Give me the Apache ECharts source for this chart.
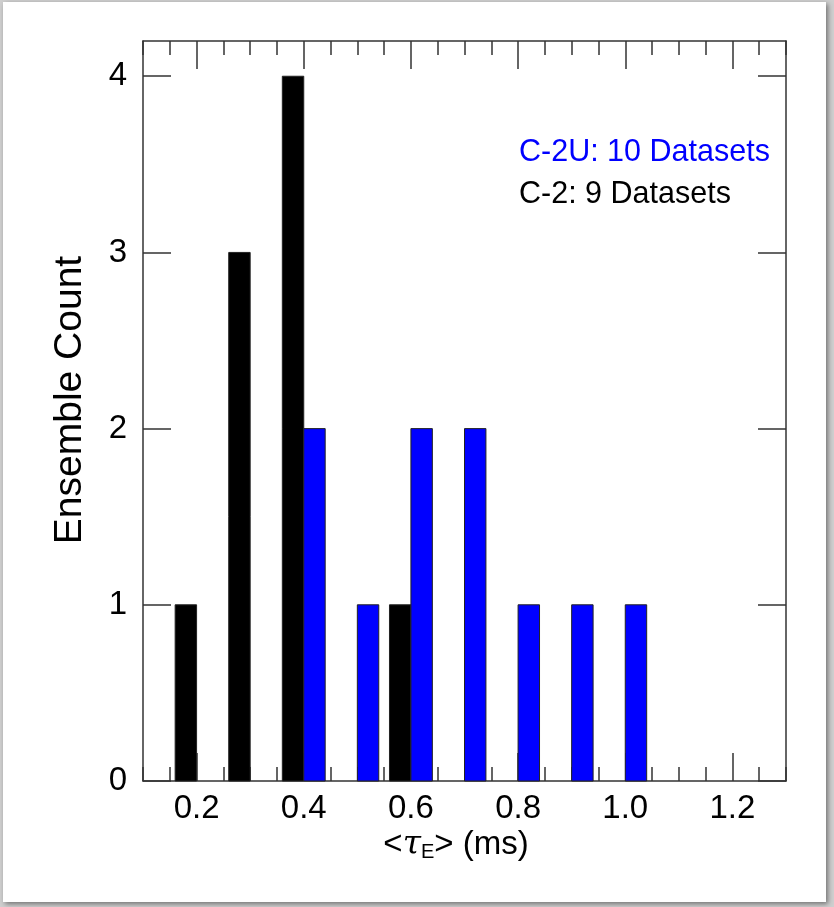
<!DOCTYPE html>
<html>
<head>
<meta charset="utf-8">
<script src="https://cdn.jsdelivr.net/npm/echarts@6/dist/echarts.min.js"></script>
<style>
html,body{margin:0;padding:0;background:#cfcfcf;}
#chart{width:834px;height:907px;}
</style>
</head>
<body>
<div id="chart"></div>
<script>
// ---- data ----
const c2Centers = [0.18, 0.28, 0.38, 0.58];          // C-2 bar centres (ms)
const c2Counts  = [1, 3, 4, 1];
const c2uCenters = [0.42, 0.52, 0.62, 0.72, 0.82, 0.92, 1.02]; // C-2U bar centres (ms)
const c2uCounts  = [2, 1, 2, 2, 1, 1, 1];
const barWidthMs = 0.04;
const xMajorTicks = [0.2, 0.4, 0.6, 0.8, 1.0, 1.2];
const yTicks = [0, 1, 2, 3, 4];
const legendLabels = ['C-2U: 10 Datasets', 'C-2: 9 Datasets'];

const FONT = '"Liberation Sans", Arial, Helvetica, sans-serif';
const AX = '#333';

function barRender(params, api) {
  const x = api.value(0), y = api.value(1);
  const p0 = api.coord([x - barWidthMs / 2, y]);
  const p1 = api.coord([x + barWidthMs / 2, 0]);
  return {
    type: 'rect',
    shape: { x: p0[0], y: p0[1], width: p1[0] - p0[0], height: p1[1] - p0[1] },
    style: api.style()
  };
}

const chart = echarts.init(document.getElementById('chart'), null, { renderer: 'canvas' });
const grid = { left: 143, right: 48, top: 41, bottom: 126 };
const xBase = { type: 'value', min: 0.1, max: 1.3, splitLine: { show: false } };
const yBase = { type: 'value', min: 0, max: 4.2, splitLine: { show: false } };

chart.setOption({
  animation: false,
  backgroundColor: '#cfcfcf',
  grid: grid,
  graphic: [
    { type: 'rect', z: -10, shape: { x: 3, y: 2, width: 823, height: 900 },
      style: { fill: '#fff', shadowBlur: 5, shadowColor: 'rgba(0,0,0,0.45)', shadowOffsetX: 2, shadowOffsetY: 2 } },
    { type: 'text', left: 519, top: 137, z: 10,
      style: { text: legendLabels[0], fill: '#0000ff', font: '30.5px ' + FONT } },
    { type: 'text', left: 519, top: 179, z: 10,
      style: { text: legendLabels[1], fill: '#000', font: '30.5px ' + FONT } },
    { type: 'text', z: 10, x: 70, y: 400, rotation: Math.PI / 2,
      style: { text: 'Ensemble Count', fill: '#000', font: '39px ' + FONT, align: 'center', verticalAlign: 'middle' } },
    { type: 'text', z: 10, x: 456, y: 845,
      style: {
        text: '<{i|τ}{s|E}> (ms)', align: 'center', verticalAlign: 'middle',
        font: '33px ' + FONT, fill: '#000',
        rich: {
          i: { fontSize: 33, fontStyle: 'italic', fontFamily: 'DejaVu Serif', fill: '#000' },
          s: { fontSize: 20, fontFamily: FONT, fill: '#000', padding: [14, 0, 0, 0] }
        }
      } }
  ],
  xAxis: [
    Object.assign({}, xBase, {
      position: 'bottom',
      axisLine: { show: true, onZero: false, lineStyle: { color: AX, width: 1.5 } },
      axisTick: { show: true, inside: true, length: 28, customValues: xMajorTicks, lineStyle: { color: AX, width: 1.5 } },
      axisLabel: { show: true, customValues: xMajorTicks, margin: 11, color: '#000', fontSize: 33, fontFamily: FONT,
        formatter: v => v.toFixed(1) }
    }),
    Object.assign({}, xBase, {
      position: 'bottom', interval: 0.05,
      axisLine: { show: false, onZero: false },
      axisTick: { show: true, inside: true, length: 14, lineStyle: { color: AX, width: 1.5 } },
      axisLabel: { show: false }
    }),
    Object.assign({}, xBase, {
      position: 'top',
      axisLine: { show: true, onZero: false, lineStyle: { color: AX, width: 1.5 } },
      axisTick: { show: true, inside: true, length: 28, customValues: xMajorTicks, lineStyle: { color: AX, width: 1.5 } },
      axisLabel: { show: false }
    }),
    Object.assign({}, xBase, {
      position: 'top', interval: 0.05,
      axisLine: { show: false, onZero: false },
      axisTick: { show: true, inside: true, length: 14, lineStyle: { color: AX, width: 1.5 } },
      axisLabel: { show: false }
    })
  ],
  yAxis: [
    Object.assign({}, yBase, {
      position: 'left',
      axisLine: { show: true, onZero: false, lineStyle: { color: AX, width: 1.5 } },
      axisTick: { show: true, inside: true, length: 28, customValues: yTicks, lineStyle: { color: AX, width: 1.5 } },
      axisLabel: { show: true, customValues: yTicks, margin: 16, color: '#000', fontSize: 33, fontFamily: FONT }
    }),
    Object.assign({}, yBase, {
      position: 'right',
      axisLine: { show: true, onZero: false, lineStyle: { color: AX, width: 1.5 } },
      axisTick: { show: true, inside: true, length: 28, customValues: yTicks, lineStyle: { color: AX, width: 1.5 } },
      axisLabel: { show: false }
    })
  ],
  series: [
    { type: 'custom', name: 'C-2', xAxisIndex: 0, yAxisIndex: 0, renderItem: barRender,
      itemStyle: { color: '#000', borderColor: '#222', borderWidth: 1 },
      data: c2Centers.map((x, i) => [x, c2Counts[i]]) },
    { type: 'custom', name: 'C-2U', xAxisIndex: 0, yAxisIndex: 0, renderItem: barRender,
      itemStyle: { color: '#0000ff', borderColor: '#222', borderWidth: 1 },
      data: c2uCenters.map((x, i) => [x, c2uCounts[i]]) }
  ]
});
</script>
</body>
</html>
